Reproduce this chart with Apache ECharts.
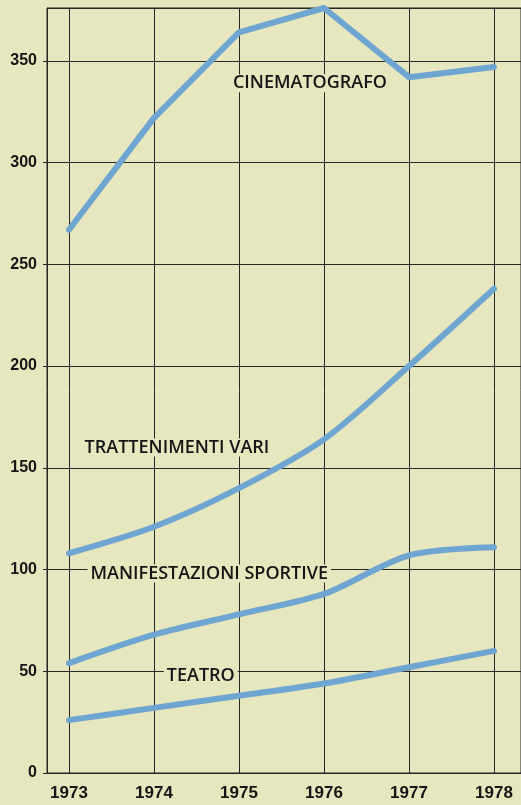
<!DOCTYPE html>
<html>
<head>
<meta charset="utf-8">
<script src="https://cdn.jsdelivr.net/npm/echarts@6/dist/echarts.min.js"></script>
<style>
html,body{margin:0;padding:0;background:#e6e6bf;}
#c{width:521px;height:805px;}
</style>
</head>
<body>
<div id="c"></div>
<script>
var years = ['1973','1974','1975','1976','1977','1978'];
var cinematografo = [267, 322, 364, 376, 342, 347];
var trattenimenti = [108, 121, 140, 164, 200, 238];
var sportive = [54, 68, 78, 88, 107, 111];
var teatro = [26, 32, 38, 44, 52, 60];
var seriesNames = ['CINEMATOGRAFO', 'TRATTENIMENTI VARI', 'MANIFESTAZIONI SPORTIVE', 'TEATRO'];
// label centres in data space: [year, value]
var labelAnchors = [[1975.835, 339], [1974.27, 160], [1974.65, 98], [1974.55, 47.7]];

var BG = '#e6e6bf';
var LINE = '#6fa5d1';
var GRID = '#262626';

var chart = echarts.init(document.getElementById('c'));

function mk(name, data, smooth) {
  return {
    type: 'line', name: name, data: data,
    xAxisIndex: 0, yAxisIndex: 0,
    symbol: 'none', smooth: smooth,
    lineStyle: { color: LINE, width: 6, cap: 'round', join: 'round' },
    z: 3
  };
}

var labelSeries = {
  type: 'line', data: [], xAxisIndex: 1, yAxisIndex: 1, z: 4,
  markPoint: {
    symbol: 'rect', symbolSize: 1,
    itemStyle: { color: 'rgba(0,0,0,0)' },
    label: {
      show: true, position: 'inside',
      formatter: function (p) { return p.name; },
      fontFamily: 'Open Sans', fontWeight: 600, fontSize: 18, color: '#151515',
      backgroundColor: BG, padding: [0, 3]
    },
    data: seriesNames.map(function (n, i) { return { name: n, coord: labelAnchors[i] }; })
  }
};

chart.setOption({
  backgroundColor: BG,
  animation: false,
  grid: [
    { left: 69, right: 27, top: 8, bottom: 32 },
    { left: 47, right: 0, top: 8, bottom: 32, show: true, borderColor: GRID, borderWidth: 1, backgroundColor: 'transparent' }
  ],
  xAxis: [
    {
      type: 'category', gridIndex: 0, data: years, boundaryGap: false,
      axisLine: { show: false }, axisTick: { show: false },
      axisLabel: { fontFamily: 'Liberation Sans', fontWeight: 'bold', fontSize: 17, color: '#151515', margin: 12 },
      splitLine: { show: true, lineStyle: { color: GRID, width: 1 } }
    },
    {
      type: 'value', gridIndex: 1, min: 1972.741, max: 1978.318,
      axisLine: { show: true, onZero: false, lineStyle: { color: GRID, width: 1 } },
      axisTick: { show: false }, axisLabel: { show: false }, splitLine: { show: false }
    }
  ],
  yAxis: [
    { type: 'value', gridIndex: 0, min: 0, max: 376, show: false, splitLine: { show: false } },
    {
      type: 'value', gridIndex: 1, min: 0, max: 376, interval: 50,
      axisLine: { show: true, onZero: false, lineStyle: { color: GRID, width: 1 } },
      axisTick: { show: true, length: 4, lineStyle: { color: GRID } },
      axisLabel: { fontFamily: 'Liberation Sans', fontWeight: 'bold', fontSize: 16, color: '#151515', margin: 10, showMaxLabel: false },
      splitLine: { show: true, lineStyle: { color: GRID, width: 1 } }
    }
  ],
  series: [
    mk(seriesNames[0], cinematografo, false),
    mk(seriesNames[1], trattenimenti, 0.3),
    mk(seriesNames[2], sportive, 0.3),
    mk(seriesNames[3], teatro, 0.3),
    labelSeries
  ]
});
</script>
</body>
</html>
